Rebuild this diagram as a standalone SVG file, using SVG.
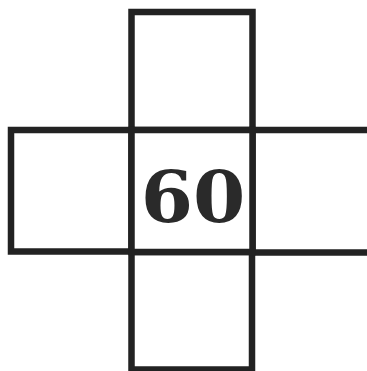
<svg xmlns="http://www.w3.org/2000/svg" width="367" height="371" viewBox="0 0 367 371">
<style>
.sq{fill:#fff;stroke:#222;stroke-width:6.5}
.lbl{font-family:"DejaVu Serif","Liberation Serif",serif;font-weight:bold;font-size:71px;fill:#2a2a2a;text-anchor:middle}
</style>
<rect width="367" height="371" fill="#fff"/>
<g id="top"><rect class="sq" x="131.5" y="12" width="121" height="118"/></g>
<g id="left"><rect class="sq" x="11" y="130" width="120.5" height="121.5"/></g>
<g id="right"><rect class="sq" x="252.5" y="130" width="130" height="122.5"/></g>
<g id="bottom"><rect class="sq" x="131.5" y="252" width="120.5" height="117.5"/></g>
<g id="center"><rect class="sq" x="131.5" y="130" width="121" height="122"/>
<text class="lbl" x="0" y="222" transform="translate(193 0) scale(1.06 1)">60</text></g>
</svg>
